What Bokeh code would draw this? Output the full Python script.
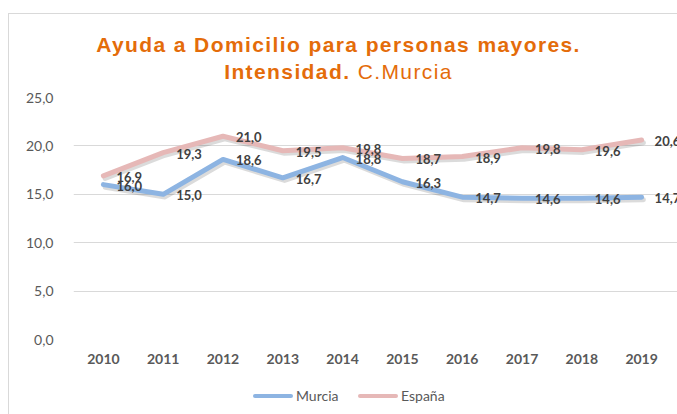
from bokeh.plotting import figure
from bokeh.models import (ColumnDataSource, Range1d, FixedTicker, Div, LabelSet)
from bokeh.layouts import column, row
from bokeh.transform import dodge
from bokeh.core.properties import value
from bokeh.embed import file_html
from bokeh.resources import INLINE

years = ["2010", "2011", "2012", "2013", "2014", "2015", "2016", "2017", "2018", "2019"]
murcia = [16.0, 15.0, 18.6, 16.7, 18.8, 16.3, 14.7, 14.6, 14.6, 14.7]
espana = [16.9, 19.3, 21.0, 19.5, 19.8, 18.7, 18.9, 19.8, 19.6, 20.6]
y_ticks = [0, 5, 10, 15, 20, 25]
y_tick_labels = ["0,0", "5,0", "10,0", "15,0", "20,0", "25,0"]
series_names = ["Murcia", "España"]
title_line1 = "Ayuda a Domicilio para personas mayores."
title_line2_bold = "Intensidad."
title_line2_normal = "C.Murcia"

def fmt(v):
    return f"{v:.1f}".replace(".", ",")

xpos = list(range(len(years)))
src = ColumnDataSource(dict(
    x=xpos,
    murcia=murcia,
    espana=espana,
    murcia_lbl=[fmt(v) for v in murcia],
    espana_lbl=[fmt(v) for v in espana],
))

C_MURCIA = "#8DB4E2"
C_ESPANA = "#E6B8B7"
ORANGE = "#E46C0A"
BORDER = "#D9D9D9"

p = figure(x_range=Range1d(-0.5, 9.6), y_range=Range1d(0, 25),
           width=668, height=282, output_backend="svg", toolbar_location=None,
           min_border_left=64, min_border_right=0, min_border_top=7, min_border_bottom=33)
p.outline_line_color = None
p.background_fill_color = "white"
p.border_fill_color = "white"

# axes
p.yaxis.ticker = FixedTicker(ticks=y_ticks)
p.yaxis.major_label_overrides = {t: l for t, l in zip(y_ticks, y_tick_labels)}
p.yaxis.axis_line_color = None
p.yaxis.major_tick_line_color = None
p.yaxis.minor_tick_line_color = None
p.yaxis.major_label_standoff = 14
p.yaxis.major_label_text_font = "Lato"
p.yaxis.major_label_text_font_size = "14px"
p.yaxis.major_label_text_color = "#595959"

p.xaxis.ticker = FixedTicker(ticks=xpos)
p.xaxis.major_label_overrides = {i: y for i, y in zip(xpos, years)}
p.xaxis.axis_line_color = None
p.xaxis.major_tick_line_color = None
p.xaxis.minor_tick_line_color = None
p.xaxis.major_label_standoff = 8
p.xaxis.major_label_text_font = "Lato"
p.xaxis.major_label_text_font_style = "bold"
p.xaxis.major_label_text_font_size = "14px"
p.xaxis.major_label_text_color = "#595959"

p.xgrid.grid_line_color = None
p.ygrid.grid_line_color = BORDER
p.ygrid.grid_line_width = 1
p.ygrid.bounds = (-0.5, 9.5)

# soft shadows under the lines
for col in ["espana", "murcia"]:
    p.line(x=dodge("x", 0.03), y=dodge(col, -0.27), source=src,
           line_color="#000000", line_alpha=0.14, line_width=5,
           line_join="round", line_cap="round")

r_esp = p.line(x="x", y="espana", source=src, line_color=C_ESPANA, line_width=5,
               line_join="round", line_cap="round")
r_mur = p.line(x="x", y="murcia", source=src, line_color=C_MURCIA, line_width=5,
               line_join="round", line_cap="round")

for col in ["espana_lbl", "murcia_lbl"]:
    ycol = col.replace("_lbl", "")
    p.add_layout(LabelSet(x="x", y=ycol, text=col, source=src,
                          x_offset=13, y_offset=-1, text_align="left", text_baseline="middle",
                          text_font=value("Lato"), text_font_style="bold",
                          text_font_size="13px", text_color="#404040"))

title_html = (
    '<div style="position:relative;width:677px;height:90px;">'
    f'<div style="position:absolute;left:8px;top:13px;width:669px;height:0;border-top:1px solid {BORDER};"></div>'
    f'<div style="position:absolute;left:8px;top:13px;width:0;height:77px;border-left:1px solid {BORDER};"></div>'
    '<div style="position:absolute;left:0;top:31px;width:677px;text-align:center;'
    "font-family:'Liberation Sans';font-weight:bold;font-size:21px;letter-spacing:1.4px;"
    f'line-height:27px;color:{ORANGE};white-space:nowrap;">'
    f'{title_line1}<br>{title_line2_bold} <span style="font-weight:normal;">{title_line2_normal}</span>'
    '</div></div>'
)
title_div = Div(text=title_html, width=677, height=90, margin=(0, 0, 0, 0))

left_div = Div(text=f'<div style="position:relative;width:9px;height:324px;">'
                    f'<div style="position:absolute;left:8px;top:0;width:0;height:324px;'
                    f'border-left:1px solid {BORDER};"></div></div>',
               width=9, height=324, margin=(0, 0, 0, 0))

def legend_entry(left, color, label):
    return (f'<div style="position:absolute;left:{left}px;top:22px;width:40px;height:4px;'
            f'border-radius:2px;background:{color};"></div>'
            f'<div style="position:absolute;left:{left + 43}px;top:15px;line-height:18px;'
            f"font-family:Lato;font-size:14px;color:#595959;white-space:nowrap;\">{label}</div>")

legend_html = ('<div style="position:relative;width:668px;height:42px;">'
               + legend_entry(244, C_MURCIA, series_names[0])
               + legend_entry(349, C_ESPANA, series_names[1])
               + '</div>')
legend_div = Div(text=legend_html, width=668, height=42, margin=(0, 0, 0, 0))

layout = column(title_div,
                row(left_div, column(p, legend_div, spacing=0, margin=(0, 0, 0, 0)),
                    spacing=0, margin=(0, 0, 0, 0)),
                spacing=0, margin=(0, 0, 0, 0))

open("out.html", "w").write(file_html(layout, INLINE))
